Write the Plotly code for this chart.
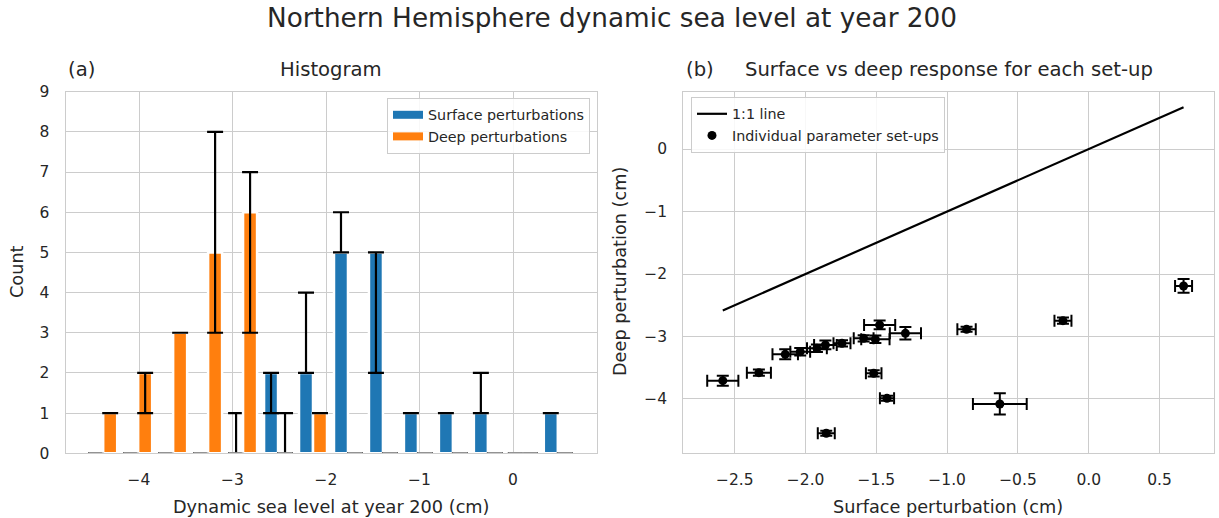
import plotly.graph_objects as go

# ---- data: histogram (panel a) ----
bin_centers = [-4.383, -4.009, -3.635, -3.261, -2.887, -2.513, -2.139,
               -1.765, -1.391, -1.017, -0.643, -0.269, 0.105, 0.479]
bar_width = 0.1497

surface_counts = [0, 0, 0, 0, 0, 2, 2, 5, 5, 1, 1, 1, 0, 1]
surface_low = [0, 0, 0, 0, 0, 1, 2, 5, 2, 1, 1, 1, 0, 1]
surface_high = [0, 0, 0, 0, 1, 2, 4, 6, 5, 1, 1, 2, 0, 1]

deep_counts = [1, 2, 3, 5, 6, 0, 1, 0, 0, 0, 0, 0, 0, 0]
deep_low = [1, 1, 3, 3, 3, 0, 1, 0, 0, 0, 0, 0, 0, 0]
deep_high = [1, 2, 3, 8, 7, 1, 1, 0, 0, 0, 0, 0, 0, 0]

# ---- data: scatter (panel b) ----
surface = [-2.585, -2.33, -2.144, -2.038, -1.92, -1.86, -1.743, -1.59, -1.507,
           -1.477, -1.295, -1.519, -1.425, -1.854, -0.863, -0.628, -0.182, 0.67]
deep = [-3.707, -3.579, -3.285, -3.243, -3.19, -3.136, -3.109, -3.03, -3.045,
        -2.816, -2.949, -3.589, -3.99, -4.549, -2.885, -4.08, -2.747, -2.192]
surface_err = [0.11, 0.085, 0.09, 0.07, 0.07, 0.08, 0.06, 0.07, 0.1,
               0.11, 0.11, 0.055, 0.05, 0.06, 0.065, 0.19, 0.06, 0.06]
deep_err = [0.08, 0.05, 0.08, 0.06, 0.06, 0.07, 0.05, 0.05, 0.06,
            0.07, 0.1, 0.05, 0.04, 0.04, 0.04, 0.17, 0.05, 0.11]

BLUE = "#1f77b4"
ORANGE = "#ff7f0e"
TXT = "#262626"
GRID = "#cccccc"
FONT = "DejaVu Sans"

fig = go.Figure()

half = bar_width / 2
series = [
    ("Surface perturbations", BLUE, -half, surface_counts, surface_low, surface_high),
    ("Deep perturbations", ORANGE, half, deep_counts, deep_low, deep_high),
]

for name, color, shift, counts, low, high in series:
    xs = [c + shift for c in bin_centers]
    fig.add_trace(go.Bar(
        x=xs, y=counts, width=bar_width,
        marker=dict(color=color, line=dict(color="white", width=2.5)),
        error_y=dict(type="data", symmetric=False,
                     array=[h - c for h, c in zip(high, counts)],
                     arrayminus=[c - l for c, l in zip(counts, low)],
                     color="black", thickness=2.2, width=8),
        showlegend=False, xaxis="x", yaxis="y",
    ))
    # empty bins show as a thin grey line on the axis
    zx, zy = [], []
    for x, c in zip(xs, counts):
        if c == 0:
            zx += [x - half - 0.005, x + half + 0.005, None]
            zy += [0, 0, None]
    fig.add_trace(go.Scatter(x=zx, y=zy, mode="lines",
                             line=dict(color="#b0b0b0", width=2),
                             showlegend=False, hoverinfo="skip",
                             xaxis="x", yaxis="y"))

# legend patches for panel a
for name, color, *_ in series:
    fig.add_trace(go.Scatter(x=[None], y=[None], mode="lines", name=name,
                             line=dict(color=color, width=8),
                             legend="legend", xaxis="x", yaxis="y"))

# ---- panel b ----
line_x = [min(surface), max(surface)]
fig.add_trace(go.Scatter(x=line_x, y=line_x, mode="lines", name="1:1 line",
                         line=dict(color="black", width=2.2),
                         legend="legend2", xaxis="x2", yaxis="y2"))
fig.add_trace(go.Scatter(
    x=surface, y=deep, mode="markers", name="Individual parameter set-ups",
    marker=dict(color="black", size=9),
    error_x=dict(type="data", array=surface_err, color="black", thickness=2, width=6),
    error_y=dict(type="data", array=deep_err, color="black", thickness=2, width=6),
    legend="legend2", xaxis="x2", yaxis="y2"))

W, H = 1219, 518
ax_common = dict(showgrid=True, gridcolor=GRID, gridwidth=1.3, zeroline=False,
                 showline=True, linecolor=GRID, linewidth=1.3, mirror=True,
                 ticks="", ticklabelstandoff=12, automargin=False,
                 tickfont=dict(family=FONT, size=15.5, color=TXT))

fig.update_layout(
    width=W, height=H,
    margin=dict(l=0, r=0, t=0, b=0, autoexpand=False),
    paper_bgcolor="white", plot_bgcolor="white",
    font=dict(family=FONT, color=TXT),
    barmode="overlay",
    xaxis=dict(domain=[65.7 / W, 596.7 / W], range=[-4.784, 0.895],
               tickvals=[-4, -3, -2, -1, 0], anchor="y", **ax_common),
    yaxis=dict(domain=[1 - 453.3 / H, 1 - 91.7 / H], range=[0, 9],
               dtick=1, anchor="x", **ax_common),
    xaxis2=dict(domain=[683.3 / W, 1214 / W], range=[-2.864, 0.885],
                tickvals=[-2.5, -2.0, -1.5, -1.0, -0.5, 0.0, 0.5],
                ticktext=["\u22122.5", "\u22122.0", "\u22121.5", "\u22121.0",
                          "\u22120.5", "0.0", "0.5"],
                anchor="y2", **ax_common),
    yaxis2=dict(domain=[1 - 453.3 / H, 1 - 91.7 / H], range=[-4.869, 0.917],
                tickvals=[0, -1, -2, -3, -4], anchor="x2", **ax_common),
    legend=dict(x=590 / W, y=1 - 98 / H, xanchor="right", yanchor="top",
                bgcolor="rgba(255,255,255,0.85)", bordercolor=GRID, borderwidth=1,
                font=dict(family=FONT, size=14.3, color=TXT), itemwidth=30),
    legend2=dict(x=691 / W, y=1 - 97 / H, xanchor="left", yanchor="top",
                 bgcolor="rgba(255,255,255,0.85)", bordercolor=GRID, borderwidth=1,
                 font=dict(family=FONT, size=14.3, color=TXT), itemwidth=30),
)

def text(x, y, s, size, xanchor="center", angle=0):
    fig.add_annotation(x=x / W, y=1 - y / H, xref="paper", yref="paper",
                       text=s, showarrow=False, xanchor=xanchor, yanchor="middle",
                       textangle=angle, font=dict(family=FONT, size=size, color=TXT))

text(612, 18, "Northern Hemisphere dynamic sea level at year 200", 26.3)
text(66, 70, "(a)", 19.6, xanchor="left")
text(331, 70, "Histogram", 19.6)
text(684, 70, "(b)", 19.6, xanchor="left")
text(949, 70, "Surface vs deep response for each set-up", 19.6)
text(331, 507, "Dynamic sea level at year 200 (cm)", 17.7)
text(948, 507, "Surface perturbation (cm)", 17.7)
text(17, 272, "Count", 17.7, angle=-90)
text(620, 272, "Deep perturbation (cm)", 17.7, angle=-90)

# the page body has a default 8px margin; drop it so the figure sits at 0,0
fig.write_html("out.html", config={"displayModeBar": False},
               post_script="document.body.style.margin='0';")
